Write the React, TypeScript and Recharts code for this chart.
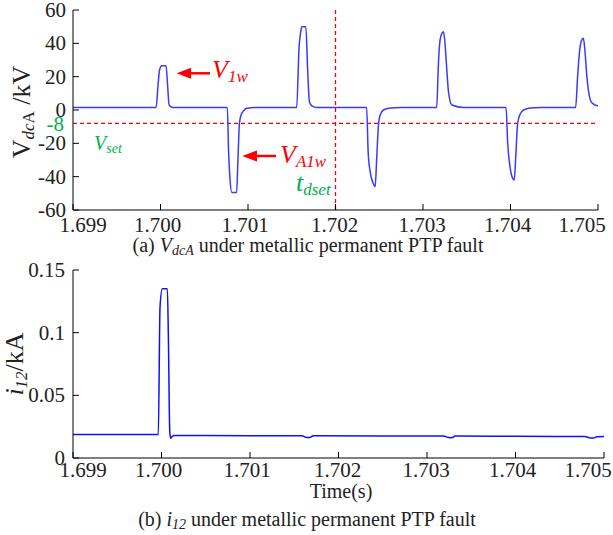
import React from 'react';
import { LineChart, Line, XAxis, YAxis } from 'recharts';

// time axis shared by both panels
const timeTicks = [1.699, 1.7, 1.701, 1.702, 1.703, 1.704, 1.705];
const timeLabels = ['1.699', '1.700', '1.701', '1.702', '1.703', '1.704', '1.705'];

// (a) V_dcA, kV
const voltTime = [
  1.699, 1.69995, 1.699972, 1.699989, 1.700014, 1.700063, 1.700081, 1.700098, 1.700144,
  1.700764, 1.700778, 1.700795, 1.700815, 1.70087, 1.700885, 1.700902, 1.700921, 1.70095, 1.700986, 1.70108,
  1.701556, 1.701584, 1.7016, 1.701615, 1.701661, 1.701681, 1.701702, 1.70173, 1.701787,
  1.702356, 1.702373, 1.702396, 1.70243, 1.702453, 1.70247, 1.702491, 1.70251, 1.702548, 1.702625, 1.70275,
  1.703157, 1.703174, 1.703189, 1.703208, 1.703234, 1.703248, 1.703271, 1.703291, 1.70333, 1.703463,
  1.703949, 1.703968, 1.703997, 1.704025, 1.704043, 1.70406, 1.70408, 1.704105, 1.704149, 1.704226, 1.70435,
  1.704744, 1.704767, 1.704787, 1.704807, 1.704833, 1.70485, 1.70487, 1.70489, 1.704921, 1.704966, 1.705,
];
const voltValue = [
  1.5, 1.5, 15, 24, 26.5, 26.5, 15, 3, 1.5,
  1.5, -25, -42, -49.5, -49.5, -30, -8, -3, -0.5, 1, 1.5,
  1.5, 38, 46, 50, 50, 25, 5, 2.5, 1.5,
  1.5, -25, -37, -44, -46, -30, -9, -3, 0, 1.2, 1.5,
  1.5, 25, 39, 45, 47, 42, 25, 11, 3, 1.5,
  1.5, -20, -35, -41, -42, -28, -9, -3, 0, 1.2, 1.5,
  1.5, 20, 34, 41, 43, 36, 22, 12, 5, 3, 2.5,
];
const voltTicks = [-60, -40, -20, 0, 20, 40, 60];
const voltDomain = [-60, 60];
const vSet = -8;
const tDset = 1.702;

// (b) i_12, kA
const currTime = [
  1.699, 1.699964, 1.699983, 1.700009, 1.700066, 1.700077, 1.700094, 1.700104, 1.700119, 1.700141,
  1.701, 1.701584, 1.701641, 1.701675, 1.701715, 1.7025,
  1.703181, 1.70326, 1.703285, 1.703316, 1.704,
  1.704785, 1.704845, 1.70488, 1.704921, 1.705,
];
const currValue = [
  0.0187, 0.0187, 0.12, 0.135, 0.135, 0.1, 0.02, 0.0158, 0.017, 0.018,
  0.0178, 0.0177, 0.0163, 0.0164, 0.0177, 0.0176,
  0.0175, 0.0162, 0.0163, 0.0175, 0.0173,
  0.0171, 0.016, 0.016, 0.017, 0.0172,
];
const currTicks = [0, 0.05, 0.1, 0.15];
const currLabels = ['0', '0.05', '0.1', '0.15'];

const timeDomain = [timeTicks[0], timeTicks[timeTicks.length - 1]];
const voltData = voltTime.map((t, i) => ({ t, v: voltValue[i] }));
const currData = currTime.map((t, i) => ({ t, i: currValue[i] }));
const vSetLine = timeDomain.map((t) => ({ t, v: vSet }));
const tDsetLine = voltDomain.map((v) => ({ t: tDset, v }));

const FONT = "'Liberation Serif', 'Times New Roman', serif";
const INK = '#222';
const RED = '#ff0000';
const GREEN = '#00b050';
const labelShift = [10, -3, -3, -1, -1, -3, -16];
const txt = (size: number, extra: React.CSSProperties = {}): React.CSSProperties => ({
  fontFamily: FONT,
  fontSize: size,
  ...extra,
});

const XTick = (p: any) => (
  <g>
    <line x1={p.x} x2={p.x} y1={p.y} y2={p.y - 6} stroke="#000" strokeWidth={1} />
    <text x={p.x + labelShift[p.index]} y={p.y + p.dy} textAnchor="middle" fill={INK} style={txt(21)}>
      {timeLabels[p.index]}
    </text>
  </g>
);
const TopTick = (p: any) => <line x1={p.x} x2={p.x} y1={p.y} y2={p.y + 6} stroke="#000" strokeWidth={1} />;
const RightTick = (p: any) => <line x1={p.x} x2={p.x - 6} y1={p.y} y2={p.y} stroke="#000" strokeWidth={1} />;
const YTick = (p: any) => (
  <g>
    <line x1={p.x} x2={p.x + 6} y1={p.y} y2={p.y} stroke="#000" strokeWidth={1} />
    <text x={p.x - p.gap} y={p.y + 7} textAnchor="end" fill={INK} style={txt(21)}>
      {p.labels ? p.labels[p.index] : p.payload.value}
    </text>
  </g>
);

const axisLine = { stroke: '#000', strokeWidth: 1 };

export default function App() {
  return (
    <div style={{ position: 'absolute', left: 0, top: 0, width: 613, height: 535, background: '#fff', fontFamily: FONT }}>
      <div style={{ position: 'absolute', left: 0, top: 0 }}>
        <LineChart width={613} height={260} data={voltData} margin={{ top: 10, right: 15, bottom: 20, left: 0 }}>
          <XAxis xAxisId="x" dataKey="t" type="number" domain={timeDomain} ticks={timeTicks} interval={0}
            allowDataOverflow height={30} tickSize={0} tickMargin={0} tickLine={false} axisLine={axisLine}
            tick={(p: any) => <XTick {...p} dy={22} />} />
          <XAxis xAxisId="xt" dataKey="t" type="number" orientation="top" domain={timeDomain} ticks={timeTicks}
            interval={0} allowDataOverflow height={0} tickSize={0} tickMargin={0} tickLine={false} axisLine={axisLine}
            tick={(p: any) => <TopTick {...p} />} />
          <YAxis yAxisId="y" type="number" domain={voltDomain} ticks={voltTicks} interval={0} allowDataOverflow
            width={73} tickSize={0} tickMargin={0} tickLine={false} axisLine={axisLine}
            tick={(p: any) => <YTick {...p} gap={7} />} />
          <YAxis yAxisId="yr" type="number" orientation="right" domain={voltDomain} ticks={voltTicks} interval={0}
            allowDataOverflow width={0} tickSize={0} tickMargin={0} tickLine={false} axisLine={axisLine}
            tick={(p: any) => <RightTick {...p} />} />
          <Line xAxisId="x" yAxisId="y" data={vSetLine} dataKey="v" type="linear" stroke={RED}
            strokeWidth={1.3} strokeDasharray="4 3" dot={false} isAnimationActive={false} />
          <Line xAxisId="x" yAxisId="y" data={tDsetLine} dataKey="v" type="linear" stroke={RED}
            strokeWidth={1.3} strokeDasharray="4 3" dot={false} isAnimationActive={false} />
          <Line xAxisId="x" yAxisId="y" dataKey="v" type="monotone" stroke="#3a3aff" strokeWidth={1.5}
            dot={false} isAnimationActive={false} />
        </LineChart>
      </div>
      <div style={{ position: 'absolute', left: 0, top: 260 }}>
        <LineChart width={613} height={275} data={currData} margin={{ top: 10, right: 9, bottom: 47, left: 0 }}>
          <XAxis xAxisId="x" dataKey="t" type="number" domain={timeDomain} ticks={timeTicks} interval={0}
            allowDataOverflow height={30} tickSize={0} tickMargin={0} tickLine={false} axisLine={axisLine}
            tick={(p: any) => <XTick {...p} dy={19} />} />
          <XAxis xAxisId="xt" dataKey="t" type="number" orientation="top" domain={timeDomain} ticks={timeTicks}
            interval={0} allowDataOverflow height={0} tickSize={0} tickMargin={0} tickLine={false} axisLine={axisLine}
            tick={(p: any) => <TopTick {...p} />} />
          <YAxis yAxisId="y" type="number" domain={[0, 0.15]} ticks={currTicks} interval={0} allowDataOverflow
            width={73} tickSize={0} tickMargin={0} tickLine={false} axisLine={axisLine}
            tick={(p: any) => <YTick {...p} gap={8} labels={currLabels} />} />
          <YAxis yAxisId="yr" type="number" orientation="right" domain={[0, 0.15]} ticks={currTicks} interval={0}
            allowDataOverflow width={0} tickSize={0} tickMargin={0} tickLine={false} axisLine={axisLine}
            tick={(p: any) => <RightTick {...p} />} />
          <Line xAxisId="x" yAxisId="y" dataKey="i" type="monotone" stroke="#1010ff" strokeWidth={1.5}
            dot={false} isAnimationActive={false} />
        </LineChart>
      </div>
      <svg width={613} height={535} style={{ position: 'absolute', left: 0, top: 0, pointerEvents: 'none' }}>
        {/* V_1w */}
        <line x1={189} x2={210} y1={73.3} y2={73.3} stroke={RED} strokeWidth={2.5} />
        <polygon points="176.7,73.3 191,67.8 191,78.8" fill={RED} />
        <text x={212} y={78} fill={RED} style={txt(26, { fontStyle: 'italic' })}>
          V<tspan dy={4} style={txt(17)}>1w</tspan>
        </text>
        {/* V_A1w */}
        <line x1={255} x2={276} y1={156} y2={156} stroke={RED} strokeWidth={2.5} />
        <polygon points="242.3,156 257,150.5 257,161.5" fill={RED} />
        <text x={280} y={163} fill={RED} style={txt(26, { fontStyle: 'italic' })}>
          V<tspan dy={4} style={txt(17)}>A1w</tspan>
        </text>
        {/* t_dset */}
        <text x={296} y={191} fill={GREEN} style={txt(26, { fontStyle: 'italic' })}>
          t<tspan dy={4} style={txt(17)}>dset</tspan>
        </text>
        {/* V_set */}
        <text x={94} y={150} fill={GREEN} style={txt(20, { fontStyle: 'italic' })}>
          V<tspan dy={3} style={txt(14)}>set</tspan>
        </text>
        <text x={64} y={131} fill={GREEN} textAnchor="end" style={txt(21)}>-8</text>
        {/* y labels */}
        <text transform="translate(30,112) rotate(-90)" textAnchor="middle" fill={INK} style={txt(26)}>
          V<tspan dy={4} style={txt(17, { fontStyle: 'italic' })}>dc</tspan><tspan style={txt(17)}>A</tspan>
          <tspan dy={-4}> /kV</tspan>
        </text>
        <text transform="translate(23,364) rotate(-90)" textAnchor="middle" fill={INK} style={txt(26)}>
          <tspan style={txt(26, { fontStyle: 'italic' })}>i</tspan>
          <tspan dy={4} style={txt(17, { fontStyle: 'italic' })}>12</tspan>
          <tspan dy={-4}>/kA</tspan>
        </text>
        {/* captions */}
        <text x={308} y={252} textAnchor="middle" fill={INK} style={txt(20)}>
          (a) <tspan style={txt(20, { fontStyle: 'italic' })}>V</tspan>
          <tspan dy={3} style={txt(14, { fontStyle: 'italic' })}>dcA</tspan>
          <tspan dy={-3}> under metallic permanent PTP fault</tspan>
        </text>
        <text x={341} y={498} textAnchor="middle" fill={INK} style={txt(20)}>Time(s)</text>
        <text x={307} y={526} textAnchor="middle" fill={INK} style={txt(20)}>
          (b) <tspan style={txt(20, { fontStyle: 'italic' })}>i</tspan>
          <tspan dy={3} style={txt(14, { fontStyle: 'italic' })}>12</tspan>
          <tspan dy={-3}> under metallic permanent PTP fault</tspan>
        </text>
      </svg>
    </div>
  );
}
